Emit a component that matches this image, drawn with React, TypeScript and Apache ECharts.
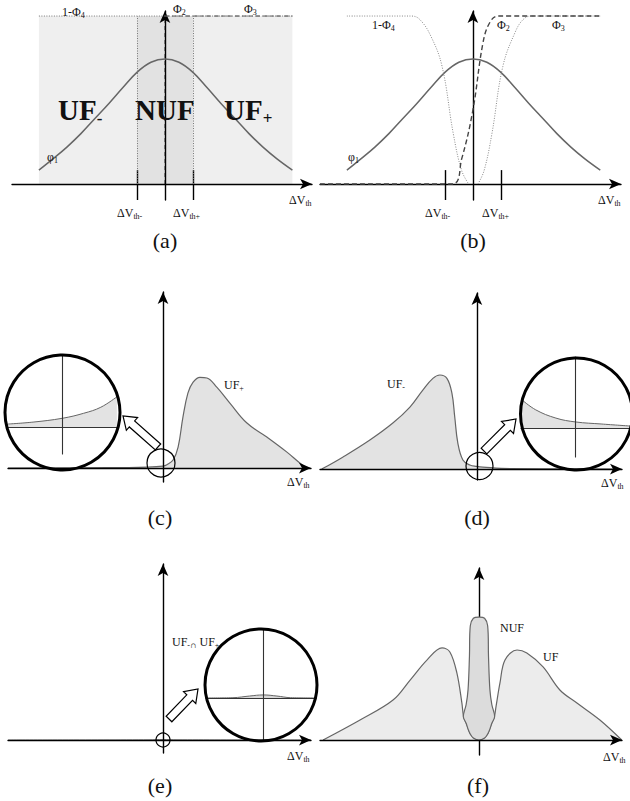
import React, { useEffect, useRef } from "react";
import * as echarts from "echarts";

const FONT = '"Liberation Serif", "DejaVu Serif", "Times New Roman", serif';

// ---------- data (x in ΔVth units, y in relative density) ----------
const gaussX = [-4.5, -4, -3.5, -3, -2.5, -2, -1.5, -1, -0.5, 0, 0.5, 1, 1.5, 2, 2.5, 3, 3.5, 4, 4.55];
const gaussY = [0.083, 0.15, 0.22, 0.3, 0.39, 0.48, 0.575, 0.665, 0.725, 0.745, 0.725, 0.665, 0.575, 0.48, 0.39, 0.3, 0.22, 0.15, 0.083];

const ufRange = [-4.5, 4.55];
const thresholds = [-1, 1];

const phi4X = [-4.5, -2.2, -1.9, -1.5, -1.1, -0.7, -0.4, -0.15];
const phi4Y = [1, 1, 0.98, 0.88, 0.7, 0.3, 0.08, 0];
const phi3X = [0.18, 0.4, 0.68, 1.07, 1.5, 1.8, 2.1, 4.55];
const phi3Y = [0, 0.08, 0.3, 0.7, 0.9, 0.98, 1, 1];
const phi2X = [-5.46, -0.75, -0.4, 0, 0.36, 0.6, 0.9, 4.55];
const phi2Y = [0, 0, 0.15, 0.44, 0.84, 0.96, 1, 1];

const ufPlusX = [-5.54, -2, -0.57, 0, 0.14, 0.36, 0.54, 0.71, 0.89, 1.07, 1.32, 1.57, 1.93, 2.39, 3.0, 3.71, 4.43, 4.89, 5.14];
const ufPlusY = [0, 0.002, 0.006, 0.012, 0.02, 0.048, 0.125, 0.3, 0.446, 0.51, 0.54, 0.536, 0.48, 0.387, 0.268, 0.185, 0.095, 0.03, 0];

const ufMinusX = [-5.54, -4.79, -3.82, -3.0, -2.39, -1.93, -1.57, -1.32, -1.07, -0.89, -0.79, -0.68, -0.5, -0.25, 0, 0.21, 1.18, 5.1];
const ufMinusY = [0, 0.071, 0.173, 0.274, 0.369, 0.47, 0.54, 0.56, 0.54, 0.45, 0.31, 0.155, 0.054, 0.024, 0.016, 0.012, 0.003, 0];

const interX = [-5.54, -0.5, 0, 0.5, 5.29];
const interY = [0, 0.001, 0.003, 0.001, 0];

// (f) UF (both tails) and NUF (narrow spike sitting in the UF dip)
const ufX = [-5.57, -4.25, -3.07, -2.46, -1.86, -1.32, -1.04, -0.79, -0.61, -0.55, -0.45, -0.38, -0.32, -0.28, -0.18, 0, 0.18, 0.28, 0.32, 0.38, 0.45, 0.55, 0.61, 0.75, 0.93, 1.36, 1.71, 2.29, 2.89, 3.5, 4.32, 5.1];
const ufY = [0, 0.119, 0.238, 0.357, 0.476, 0.548, 0.524, 0.4, 0.22, 0.14, 0.1, 0.065, 0.04, 0.03, 0.01, 0, 0.01, 0.03, 0.04, 0.065, 0.1, 0.14, 0.2, 0.34, 0.476, 0.536, 0.518, 0.435, 0.298, 0.22, 0.119, 0];
const nufX = [-0.56, -0.46, -0.39, -0.34, -0.31, -0.2, 0, 0.2, 0.31, 0.34, 0.39, 0.46, 0.56];
const nufTop = [0.14, 0.21, 0.3, 0.5, 0.68, 0.725, 0.732, 0.725, 0.68, 0.5, 0.3, 0.21, 0.14];
const nufBase = [0.14, 0.1, 0.065, 0.045, 0.035, 0.012, 0, 0.012, 0.035, 0.045, 0.065, 0.1, 0.14];

const insetCX = [-0.98, -0.53, 0, 0.38, 0.69, 0.98];
const insetCY = [0.055, 0.09, 0.16, 0.25, 0.36, 0.55];
const insetDX = [-0.98, -0.73, -0.36, 0, 0.47, 1.0];
const insetDY = [0.51, 0.33, 0.18, 0.11, 0.073, 0.036];
const insetEX = [-1.04, -0.55, -0.25, 0, 0.25, 0.5, 0.96];
const insetEY = [0, 0.005, 0.035, 0.055, 0.035, 0.005, 0];

const pairs = (xs: number[], ys: number[]) => xs.map((x, i) => [x, ys[i]]);

// ---------- layout ----------
type Panel = { left: number; top: number; width: number; height: number; xMin: number; xMax: number; yMin: number; yMax: number; arrow: boolean; yZ?: number };
const panels: Panel[] = [
  { left: 12, top: 11, width: 300, height: 189, xMin: -5.46, xMax: 5.25, yMin: -0.095, yMax: 1.03, arrow: true },
  { left: 320, top: 11, width: 301, height: 189, xMin: -5.46, xMax: 5.29, yMin: -0.095, yMax: 1.03, arrow: true },
  { left: 8, top: 292, width: 303, height: 190, xMin: -5.54, xMax: 5.29, yMin: -0.083, yMax: 1.048, arrow: true },
  { left: 320, top: 293, width: 302, height: 187, xMin: -5.6, xMax: 5.18, yMin: -0.065, yMax: 1.048, arrow: true },
  { left: 8, top: 564, width: 303, height: 189, xMin: -5.54, xMax: 5.29, yMin: -0.077, yMax: 1.048, arrow: true },
  { left: 320, top: 568, width: 302, height: 187, xMin: -5.68, xMax: 5.11, yMin: -0.089, yMax: 1.024, arrow: true, yZ: 0 },
  { left: 7, top: 355, width: 111, height: 99, xMin: -1, xMax: 1, yMin: -0.49, yMax: 1.31, arrow: false },
  { left: 521, top: 357, width: 111, height: 100, xMin: -1, xMax: 1, yMin: -0.527, yMax: 1.29, arrow: false },
  { left: 206, top: 629, width: 110, height: 112, xMin: -1.04, xMax: 0.96, yMin: -0.78, yMax: 1.25, arrow: false },
];

const CURVE = "#666";

function axisLine(p: Panel) {
  return {
    onZero: true,
    symbol: p.arrow ? ["none", "arrow"] : ["none", "none"],
    symbolSize: [8, 12],
    lineStyle: { color: p.arrow ? "#000" : "#333", width: p.arrow ? 1.4 : 1.1 },
  };
}

function tickMarks(xs: number[], lo: number, hi: number) {
  return {
    silent: true,
    symbol: ["none", "none"],
    label: { show: false },
    lineStyle: { color: "#000", type: "solid", width: 1.4 },
    data: xs.map((x) => [{ coord: [x, lo] }, { coord: [x, hi] }]),
  };
}

function hollowArrow(tail: number[], tip: number[], shaft = 4, head = 8.5, headLen = 12) {
  const dx = tip[0] - tail[0];
  const dy = tip[1] - tail[1];
  const L = Math.hypot(dx, dy);
  const ux = dx / L, uy = dy / L;
  const nx = -uy, ny = ux;
  const bx = tip[0] - ux * headLen, by = tip[1] - uy * headLen;
  return {
    type: "polygon",
    z: 10,
    shape: {
      points: [
        [tail[0] + nx * shaft, tail[1] + ny * shaft],
        [bx + nx * shaft, by + ny * shaft],
        [bx + nx * head, by + ny * head],
        tip,
        [bx - nx * head, by - ny * head],
        [bx - nx * shaft, by - ny * shaft],
        [tail[0] - nx * shaft, tail[1] - ny * shaft],
      ],
    },
    style: { fill: "#fff", stroke: "#000", lineWidth: 1.2 },
  };
}

function circle(cx: number, cy: number, r: number, lw: number) {
  return { type: "circle", z: 10, shape: { cx, cy, r }, style: { fill: "none", stroke: "#000", lineWidth: lw } };
}

const RICH = {
  m: { fontSize: 12, fontFamily: FONT, color: "#111" },
  s: { fontSize: 8, fontFamily: FONT, color: "#111", padding: [7, 0, 0, 0] },
  c: { fontSize: 9, fontFamily: FONT, color: "#111", padding: [5, 0, 0, 0] },
  b: { fontSize: 29, fontFamily: FONT, fontWeight: "bold", color: "#000" },
  bs: { fontSize: 17, fontFamily: FONT, fontWeight: "bold", color: "#000", padding: [16, 0, 0, 0] },
};

function label(x: number, y: number, text: string, align = "left") {
  return {
    type: "text",
    z: 11,
    x,
    y,
    style: { text, rich: RICH, textAlign: align, textVerticalAlign: "middle", fill: "#111" },
  };
}

function caption(x: number, y: number, text: string) {
  return {
    type: "text",
    z: 11,
    x,
    y,
    style: { text, font: `22px ${FONT}`, textAlign: "center", textVerticalAlign: "middle", fill: "#111" },
  };
}

const DV = "{m|ΔV}{s|th}";

export default function App() {
  const ref = useRef<HTMLDivElement>(null);
  useEffect(() => {
    if (!ref.current) return;
    const chart = echarts.init(ref.current, undefined, { renderer: "svg" });

    const grid = panels.map((p) => ({ left: p.left, top: p.top, width: p.width, height: p.height, containLabel: false }));
    const xAxis = panels.map((p, i) => ({
      type: "value", gridIndex: i, min: p.xMin, max: p.xMax, z: 3,
      axisLine: axisLine(p), axisTick: { show: false }, axisLabel: { show: false }, splitLine: { show: false },
    }));
    const yAxis = panels.map((p, i) => ({
      type: "value", gridIndex: i, min: p.yMin, max: p.yMax, z: p.yZ ?? 3,
      axisLine: axisLine(p), axisTick: { show: false }, axisLabel: { show: false }, splitLine: { show: false },
    }));

    const base = { type: "line", symbol: "none", silent: true };
    const curveLine = { color: CURVE, width: 1.5 };

    const series: any[] = [
      // (a)
      { ...base, xAxisIndex: 0, yAxisIndex: 0, z: 1, data: [[ufRange[0], 1], [ufRange[1], 1]], lineStyle: { width: 0 }, areaStyle: { color: "#efefef", opacity: 1 } },
      { ...base, xAxisIndex: 0, yAxisIndex: 0, z: 1, data: [[thresholds[0], 1], [thresholds[1], 1]], lineStyle: { width: 0 }, areaStyle: { color: "#e2e2e2", opacity: 1 } },
      { ...base, xAxisIndex: 0, yAxisIndex: 0, z: 2, data: [[0, 0], [0, 1], [ufRange[1], 1]], lineStyle: { color: "#555", width: 1, type: [4, 3] } },
      { ...base, xAxisIndex: 0, yAxisIndex: 0, z: 4, data: [[ufRange[0], 1], [0, 1]], lineStyle: { color: "#777", width: 1, type: [1, 1.5] } },
      { ...base, xAxisIndex: 0, yAxisIndex: 0, z: 4, data: [[0, 1], [ufRange[1], 1]], lineStyle: { color: "#777", width: 1, type: [5, 2, 1, 2] } },
      {
        ...base, xAxisIndex: 0, yAxisIndex: 0, z: 4, smooth: 0.4, data: pairs(gaussX, gaussY), lineStyle: curveLine,
        markLine: {
          ...tickMarks(thresholds, -0.095, 0.083),
          data: [
            ...thresholds.map((x) => [{ coord: [x, -0.095] }, { coord: [x, 0.083] }]),
            ...thresholds.map((x) => [{ coord: [x, 0], lineStyle: { color: "#777", width: 1, type: [1, 1.5] } }, { coord: [x, 1] }]),
          ],
        },
      },
      // (b)
      { ...base, xAxisIndex: 1, yAxisIndex: 1, z: 4, smooth: 0.4, data: pairs(gaussX, gaussY), lineStyle: curveLine, markLine: tickMarks(thresholds, -0.095, 0.083) },
      { ...base, xAxisIndex: 1, yAxisIndex: 1, z: 4, smooth: 0.4, data: pairs(phi4X, phi4Y), lineStyle: { color: "#888", width: 1, type: [1, 1.5] } },
      { ...base, xAxisIndex: 1, yAxisIndex: 1, z: 4, smooth: 0.4, data: pairs(phi3X, phi3Y), lineStyle: { color: "#888", width: 1, type: [1, 1.5] } },
      { ...base, xAxisIndex: 1, yAxisIndex: 1, z: 4, smooth: 0.4, data: pairs(phi2X, phi2Y), lineStyle: { color: "#444", width: 1.4, type: [5, 3] } },
      // (c)
      { ...base, xAxisIndex: 2, yAxisIndex: 2, z: 2, smooth: 0.4, data: pairs(ufPlusX, ufPlusY), lineStyle: { color: CURVE, width: 1.2 }, areaStyle: { color: "#e3e3e3", opacity: 1 } },
      // (d)
      { ...base, xAxisIndex: 3, yAxisIndex: 3, z: 2, smooth: 0.4, data: pairs(ufMinusX, ufMinusY), lineStyle: { color: CURVE, width: 1.2 }, areaStyle: { color: "#e3e3e3", opacity: 1 } },
      // (e)
      { ...base, xAxisIndex: 4, yAxisIndex: 4, z: 2, smooth: 0.4, data: pairs(interX, interY), lineStyle: { color: CURVE, width: 1 } },
      // (f)
      { ...base, xAxisIndex: 5, yAxisIndex: 5, z: 2, smooth: 0.35, data: pairs(ufX, ufY), lineStyle: { color: CURVE, width: 1.2 }, areaStyle: { color: "#ececec", opacity: 1 } },
      {
        type: "custom", xAxisIndex: 5, yAxisIndex: 5, z: 3, silent: true, data: [[0, 0]],
        renderItem: (_params: any, api: any) => {
          const top = nufX.map((x, i) => api.coord([x, nufTop[i]]));
          const bottom = nufX.map((x, i) => api.coord([x, nufBase[i]])).slice(1, -1).reverse();
          return {
            type: "polygon",
            shape: { points: [...top, ...bottom], smooth: 0.35 },
            style: { fill: "#dcdcdc", stroke: CURVE, lineWidth: 1.2 },
          };
        },
      },
      // insets
      { ...base, xAxisIndex: 6, yAxisIndex: 6, z: 2, smooth: 0.4, data: pairs(insetCX, insetCY), lineStyle: { color: CURVE, width: 1 }, areaStyle: { color: "#e3e3e3", opacity: 1 } },
      { ...base, xAxisIndex: 7, yAxisIndex: 7, z: 2, smooth: 0.4, data: pairs(insetDX, insetDY), lineStyle: { color: CURVE, width: 1 }, areaStyle: { color: "#e3e3e3", opacity: 1 } },
      { ...base, xAxisIndex: 8, yAxisIndex: 8, z: 2, smooth: 0.4, data: pairs(insetEX, insetEY), lineStyle: { color: CURVE, width: 1 }, areaStyle: { color: "#d8d8d8", opacity: 1 } },
    ];

    const graphic = [
      // circles and arrows
      circle(62.5, 412.5, 57.5, 3), circle(161, 463, 14, 1.2), hollowArrow([158, 447], [123, 416]),
      circle(576.5, 414, 56, 3), circle(479.5, 466, 13.5, 1.2), hollowArrow([484, 451], [516, 419]),
      circle(261, 685, 56, 3), circle(163, 740, 7, 1.2), hollowArrow([169, 719], [198, 689]),
      // (a)
      label(62, 12, "{m|1-Φ}{s|4}"), label(173, 9, "{m|Φ}{s|2}"), label(244, 9, "{m|Φ}{s|3}"), label(47, 157, "{m|φ}{s|1}"),
      label(58, 110, "{b|UF}{bs|-}"), label(135, 110, "{b|NUF}"), label(224, 110, "{b|UF}{bs|+}"),
      label(117, 213, "{m|ΔV}{s|th-}"), label(173, 213, "{m|ΔV}{s|th+}"), label(289, 200, DV), caption(165, 240, "(a)"),
      // (b)
      label(372, 25, "{m|1-Φ}{s|4}"), label(497, 25, "{m|Φ}{s|2}"), label(552, 25, "{m|Φ}{s|3}"), label(348, 157, "{m|φ}{s|1}"),
      label(425, 213, "{m|ΔV}{s|th-}"), label(482, 213, "{m|ΔV}{s|th+}"), label(598, 200, DV), caption(473, 240, "(b)"),
      // (c)
      label(224, 385, "{m|UF}{s|+}"), label(287, 482, DV), caption(160, 517, "(c)"),
      // (d)
      label(387, 384, "{m|UF}{s|-}"), label(601, 483, DV), caption(477, 517, "(d)"),
      // (e)
      label(172, 642, "{m|UF}{s|-}{c|∩}{m| UF}{s|+}"), label(287, 756, DV), caption(160, 785, "(e)"),
      // (f)
      label(500, 628, "{m|NUF}"), label(543, 657, "{m|UF}"), label(603, 757, DV), caption(478, 785, "(f)"),
    ];

    chart.setOption({ animation: false, backgroundColor: "#fff", grid, xAxis, yAxis, series, graphic });
    return () => chart.dispose();
  }, []);
  return <div ref={ref} style={{ position: "absolute", left: 0, top: 0, width: 630, height: 801, background: "#fff" }} />;
}
